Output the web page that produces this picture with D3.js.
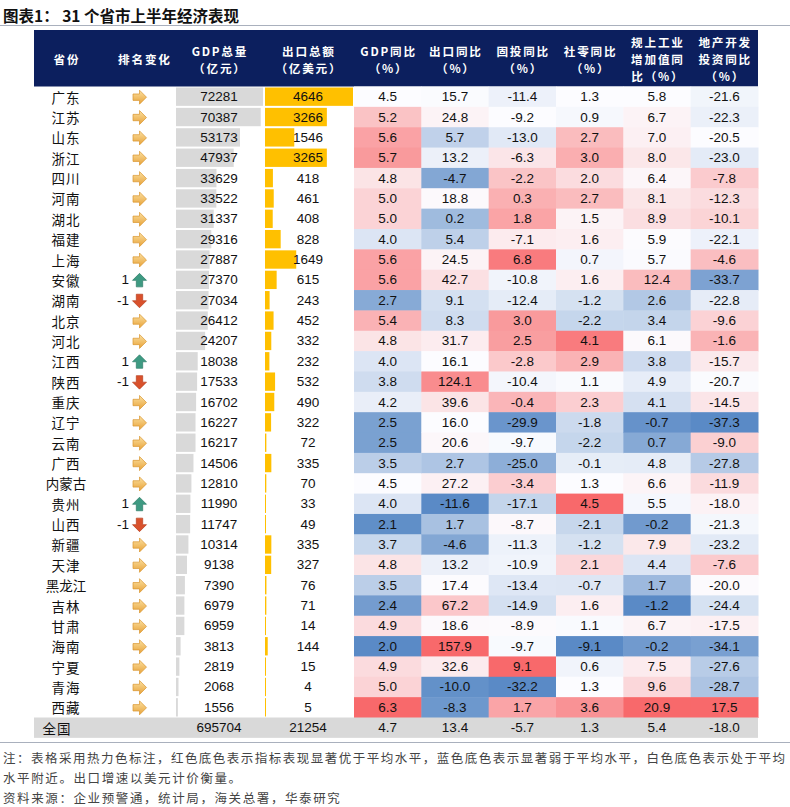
<!DOCTYPE html>
<html>
<head>
<meta charset="utf-8">
<script src="https://cdn.jsdelivr.net/npm/d3@7"></script>
<style>
  body { margin: 0; background: #fff; }
  svg { display: block; font-family: "Liberation Sans", Arial, "Noto Sans CJK SC", sans-serif; }
  .cjk { font-family: "Noto Sans CJK SC", sans-serif; }
</style>
</head>
<body>
<svg id="chart"></svg>
<script>
const provinces = ["广东","江苏","山东","浙江","四川","河南","湖北","福建","上海","安徽","湖南","北京","河北","江西","陕西","重庆","辽宁","云南","广西","内蒙古","贵州","山西","新疆","天津","黑龙江","吉林","甘肃","海南","宁夏","青海","西藏"];
const rankChange = [0,0,0,0,0,0,0,0,0,1,-1,0,0,1,-1,0,0,0,0,0,1,-1,0,0,0,0,0,0,0,0,0];
const gdpTotal = [72281,70387,53173,47937,33629,33522,31337,29316,27887,27370,27034,26412,24207,18038,17533,16702,16227,16217,14506,12810,11990,11747,10314,9138,7390,6979,6959,3813,2819,2068,1556];
const exportTotal = [4646,3266,1546,3265,418,461,408,828,1649,615,243,452,332,232,532,490,322,72,335,70,33,49,335,327,76,71,14,144,15,4,5];
const gdpYoy = [4.5,5.2,5.6,5.7,4.8,5.0,5.0,4.0,5.6,5.6,2.7,5.4,4.8,4.0,3.8,4.2,2.5,2.5,3.5,4.5,4.0,2.1,3.7,4.8,3.5,2.4,4.9,2.0,4.9,5.0,6.3];
const exportYoy = [15.7,24.8,5.7,13.2,-4.7,18.8,0.2,5.4,24.5,42.7,9.1,8.3,31.7,16.1,124.1,39.6,16.0,20.6,2.7,27.2,-11.6,1.7,-4.6,13.2,17.4,67.2,18.6,157.9,32.6,-10.0,-8.3];
const faiYoy = [-11.4,-9.2,-13.0,-6.3,-2.2,0.3,1.8,-7.1,6.8,-10.8,-12.4,3.0,2.5,-2.8,-10.4,-0.4,-29.9,-9.7,-25.0,-3.4,-17.1,-8.7,-11.3,-10.9,-13.4,-14.9,-8.9,-9.7,9.1,-32.2,1.7];
const retailYoy = [1.3,0.9,2.7,3.0,2.0,2.7,1.5,1.6,0.7,1.6,-1.2,-2.2,4.1,2.9,1.1,2.3,-1.8,-2.2,-0.1,1.3,4.5,-2.1,-1.2,2.1,-0.7,1.6,1.1,-9.1,0.6,1.3,3.6];
const industryYoy = [5.8,6.7,7.0,8.0,6.4,8.1,8.9,5.9,5.7,12.4,2.6,3.4,6.1,3.8,4.9,4.1,-0.7,0.7,4.8,6.6,5.5,-0.2,7.9,4.4,1.7,-1.2,6.7,-0.2,7.5,9.6,20.9];
const realEstateYoy = [-21.6,-22.3,-20.5,-23.0,-7.8,-12.3,-10.1,-22.1,-4.6,-33.7,-22.8,-9.6,-1.6,-15.7,-20.7,-14.5,-37.3,-9.0,-27.8,-11.9,-18.0,-21.3,-23.2,-7.6,-20.0,-24.4,-17.5,-34.1,-27.6,-28.7,17.5];
const nationalLabel = "全国";
const nationalRow = [695704, 21254, 4.7, 13.4, -5.7, 1.3, 5.4, -18.0];

const headers = [
  ["省份"], ["排名变化"], ["GDP总量", "（亿元）"], ["出口总额", "（亿美元）"],
  ["GDP同比", "（%）"], ["出口同比", "（%）"], ["固投同比", "（%）"], ["社零同比", "（%）"],
  ["规上工业", "增加值同", "比（%）"], ["地产开发", "投资同比", "（%）"]
];
const heatSeries = [gdpYoy, exportYoy, faiYoy, retailYoy, industryYoy, realEstateYoy];
const title = "图表1：  31 个省市上半年经济表现";
const notes = [
  "注：表格采用热力色标注，红色底色表示指标表现显著优于平均水平，蓝色底色表示显著弱于平均水平，白色底色表示处于平均",
  "水平附近。出口增速以美元计价衡量。",
  "资料来源：企业预警通，统计局，海关总署，华泰研究"
];

// ---- layout ----
const W = 790, H = 807;
const left = 34, right = 758;
const headTop = 30, headBottom = 86.5;
const bodyBottom = 717.5;
const colCenters = [66, 144, 219, 308]; // fixed columns
const gdpX0 = 176, gdpMaxW = 87;
const expX0 = 265, expMaxW = 88;

const svg = d3.select("#chart").attr("width", W).attr("height", H);

const y = d3.scaleBand().domain(d3.range(provinces.length)).range([headBottom, bodyBottom]);
const xHeat = d3.scaleBand().domain(d3.range(heatSeries.length)).range([354, right]);
const gdpScale = d3.scaleLinear().domain([0, d3.max(gdpTotal)]).range([0, gdpMaxW]);
const expScale = d3.scaleLinear().domain([0, d3.max(exportTotal)]).range([0, expMaxW]);

// title + rules
svg.append("text").attr("x", 3).attr("y", 15).attr("dominant-baseline", "central")
  .attr("class", "cjk").attr("font-size", 15.5).attr("font-weight", "bold").attr("fill", "#111")
  .text(title);
svg.append("line").attr("x1", 0).attr("x2", W).attr("y1", 25.5).attr("y2", 25.5)
  .attr("stroke", "#a9b0bd").attr("stroke-width", 1);

// header
svg.append("rect").attr("x", left).attr("y", headTop).attr("width", right - left).attr("height", headBottom - headTop)
  .attr("fill", "#0c1f5e");
const hx = headers.map((h, i) => i < 4 ? colCenters[i] : xHeat(i - 4) + xHeat.bandwidth() / 2);
headers.forEach((lines, i) => {
  const lh = 17;
  const cy = 59 - (lines.length - 1) * lh / 2;
  lines.forEach((l, k) => {
    svg.append("text").attr("class", "cjk").attr("fill", "#fff").attr("font-size", 11.6)
      .attr("font-weight", "bold").attr("text-anchor", "middle").attr("letter-spacing", 1.8)
      .attr("x", hx[i] + 0.9).attr("y", cy + k * lh).attr("dominant-baseline", "central").text(l);
  });
});

// arrow icons
const defs = svg.append("defs");
const grad = defs.append("linearGradient").attr("id", "yel").attr("x1", 0).attr("y1", 0).attr("x2", 0).attr("y2", 1);
grad.append("stop").attr("offset", "0%").attr("stop-color", "#fbe0a0");
grad.append("stop").attr("offset", "100%").attr("stop-color", "#e8a238");
const arrowPath = "M-6.5,-3.2 L0,-3.2 L0,-7 L7,0 L0,7 L0,3.2 L-6.5,3.2 Z";

const rows = svg.append("g");
provinces.forEach((p, i) => {
  const top = y(i), bh = y.bandwidth(), cy = top + bh / 2;
  rows.append("text").attr("class", "cjk").attr("x", colCenters[0]).attr("y", cy)
    .attr("dominant-baseline", "central").attr("text-anchor", "middle").attr("font-size", 13.5)
    .attr("letter-spacing", p.length === 2 ? 1 : 0).attr("fill", "#111").text(p);

  const r = rankChange[i];
  if (r !== 0) {
    rows.append("text").attr("x", 129).attr("y", cy).attr("dominant-baseline", "central")
      .attr("text-anchor", "end").attr("font-size", 13.5).attr("fill", "#111").text(r);
  }
  rows.append("path").attr("d", arrowPath)
    .attr("transform", `translate(139.5,${cy + 0.5}) rotate(${r > 0 ? -90 : r < 0 ? 90 : 0})`)
    .attr("fill", r > 0 ? "#3e9a82" : r < 0 ? "#d9512c" : "url(#yel)")
    .attr("stroke", r > 0 ? "#2f7d68" : r < 0 ? "#b8401f" : "#d9952f").attr("stroke-width", 0.7)
    .attr("stroke-linejoin", "round");

  // data bars
  rows.append("rect").attr("x", gdpX0).attr("y", top + 1).attr("height", bh - 2)
    .attr("width", gdpScale(gdpTotal[i])).attr("fill", "#d9d9d9");
  rows.append("text").attr("x", colCenters[2]).attr("y", cy).attr("dominant-baseline", "central")
    .attr("text-anchor", "middle").attr("font-size", 13.5).attr("fill", "#111").text(gdpTotal[i]);
  rows.append("rect").attr("x", expX0).attr("y", top + 1).attr("height", bh - 2)
    .attr("width", Math.max(1, expScale(exportTotal[i]))).attr("fill", "#ffc000");
  rows.append("text").attr("x", colCenters[3]).attr("y", cy).attr("dominant-baseline", "central")
    .attr("text-anchor", "middle").attr("font-size", 13.5).attr("fill", "#111").text(exportTotal[i]);
});

// heat map columns (excel 3-colour scale: min / 50th percentile / max)
heatSeries.forEach((vals, j) => {
  const color = d3.scaleLinear()
    .domain([d3.min(vals), d3.median(vals), d3.max(vals)])
    .range(["#5a8ac6", "#fcfcff", "#f8696b"]);
  const g = svg.append("g");
  g.selectAll("rect").data(vals).join("rect")
    .attr("x", xHeat(j)).attr("y", (d, i) => y(i)).attr("width", xHeat.bandwidth() + 0.5)
    .attr("height", y.bandwidth() + 0.5).attr("fill", d => color(d));
  g.selectAll("text").data(vals).join("text")
    .attr("x", xHeat(j) + xHeat.bandwidth() / 2).attr("y", (d, i) => y(i) + y.bandwidth() / 2)
    .attr("dominant-baseline", "central").attr("text-anchor", "middle").attr("font-size", 13.5)
    .attr("fill", "#111").text(d => d.toFixed(1));
});

// national row
const nTop = bodyBottom, nH = y.bandwidth(), nCy = nTop + nH / 2;
svg.append("rect").attr("x", left).attr("y", nTop).attr("width", right - left).attr("height", nH).attr("fill", "#d9d9d9");
svg.append("text").attr("class", "cjk").attr("x", 57).attr("y", nCy).attr("dominant-baseline", "central")
  .attr("text-anchor", "middle").attr("font-size", 13.5).attr("letter-spacing", 1).attr("fill", "#111").text(nationalLabel);
nationalRow.forEach((v, k) => {
  const cx = k < 2 ? colCenters[k + 2] : xHeat(k - 2) + xHeat.bandwidth() / 2;
  svg.append("text").attr("x", cx).attr("y", nCy).attr("dominant-baseline", "central")
    .attr("text-anchor", "middle").attr("font-size", 13.5).attr("fill", "#111")
    .text(k < 2 ? v : v.toFixed(1));
});
svg.append("line").attr("x1", 0).attr("x2", W).attr("y1", 742.5).attr("y2", 742.5)
  .attr("stroke", "#a9b0bd").attr("stroke-width", 1);

// notes
notes.forEach((n, k) => {
  const t = svg.append("text").attr("class", "cjk").attr("x", 3).attr("y", [757, 777, 797][k])
    .attr("dominant-baseline", "central").attr("font-size", 12.5).attr("fill", "#444").text(n);
  if (k === 0) t.attr("textLength", 782).attr("lengthAdjust", "spacing");
  else t.attr("letter-spacing", 1.6);
});
</script>
</body>
</html>
